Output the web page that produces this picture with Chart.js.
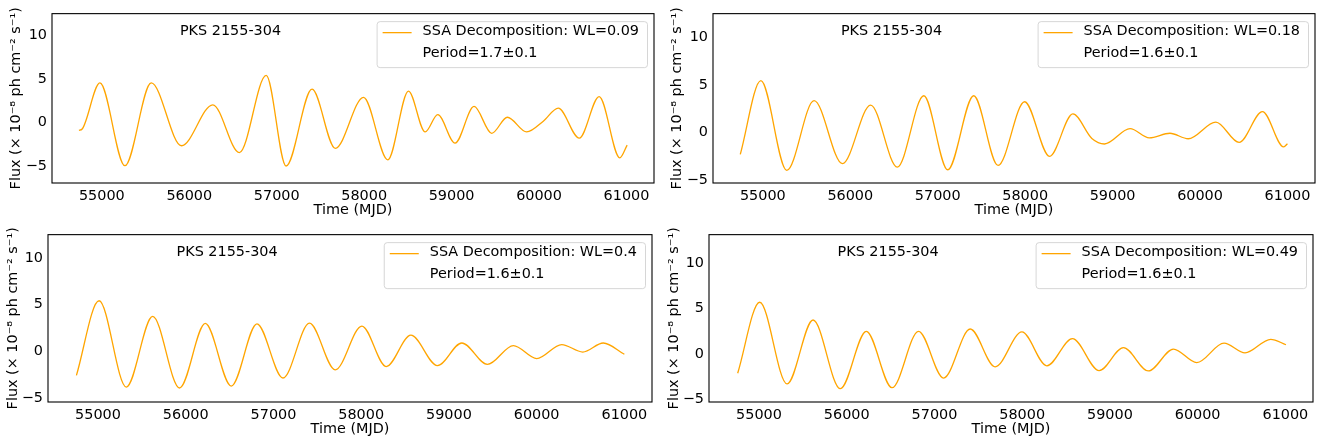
<!DOCTYPE html>
<html>
<head>
<meta charset="utf-8">
<script src="https://cdn.jsdelivr.net/npm/chart.js@4.4.1/dist/chart.umd.min.js"></script>
<style>
  html, body { margin: 0; padding: 0; background: #fff; }
  #fig { position: relative; width: 1328px; height: 443px; overflow: hidden; background: #fff; }
  #fig canvas { position: absolute; }
</style>
</head>
<body>
<div id="fig">
  <canvas id="c1" width="664" height="221" style="left:0;top:0"></canvas>
  <canvas id="c2" width="664" height="221" style="left:664px;top:0"></canvas>
  <canvas id="c3" width="664" height="222" style="left:0;top:221px"></canvas>
  <canvas id="c4" width="664" height="222" style="left:664px;top:221px"></canvas>
</div>
<script>
// ---- data ----
const sourceName = 'PKS 2155-304';
const xTitle = 'Time (MJD)';
const yTitle = 'Flux (\u00d7 10\u207b\u2078 ph cm\u207b\u00b2 s\u207b\u00b9)';
const xTicks = [55000, 56000, 57000, 58000, 59000, 60000, 61000];
const yTicks = [-5, 0, 5, 10];
const windowLengths = ['0.09', '0.18', '0.4', '0.49'];
const periods = ['1.7\u00b10.1', '1.6\u00b10.1', '1.6\u00b10.1', '1.6\u00b10.1'];

// WL = 0.09
const mjd1 = [54738, 54775, 54978, 55264, 55565, 55911, 56269, 56573, 56880, 57107, 57404, 57670, 57993, 58271,
              58507, 58698, 58842, 59040, 59257, 59459, 59638, 59859, 60049, 60220, 60460, 60688, 60924, 61008];
const flux1 = [-0.9, -0.75, 4.55, -4.96, 4.55, -2.67, 2.03, -3.46, 5.41, -5.0, 3.83, -2.97, 2.89, -4.29,
               3.61, -1.09, 0.9, -2.37, 1.84, -1.24, 0.6, -1.09, 0.15, 1.65, -1.8, 2.97, -4.06, -2.6];
// WL = 0.18
const mjd2 = [54742, 54978, 55274, 55586, 55910, 56233, 56538, 56841, 57115, 57412, 57690, 57994, 58279,
              58546, 58763, 58907, 59200, 59420, 59656, 59865, 60181, 60447, 60714, 60957, 61000];
const flux2 = [-2.29, 5.46, -3.98, 3.35, -3.27, 2.89, -3.63, 3.87, -3.91, 3.87, -3.45, 3.24, -2.5,
               1.96, -0.62, -1.2, 0.41, -0.55, -0.07, -0.65, 1.1, -1.03, 2.21, -1.51, -1.17];
// WL = 0.4
const mjd3 = [54754, 55012, 55323, 55623, 55930, 56223, 56519, 56812, 57108, 57411, 57704, 58008, 58285,
              58566, 58869, 59147, 59439, 59735, 60001, 60286, 60526, 60760, 61000];
const flux3 = [-2.57, 5.42, -3.82, 3.75, -3.92, 2.99, -3.72, 2.95, -2.85, 3.02, -1.98, 2.71, -1.63,
               1.73, -1.53, 0.9, -1.39, 0.62, -0.77, 0.73, -0.07, 0.9, -0.31];
// WL = 0.49
const mjd4 = [54757, 55008, 55320, 55616, 55927, 56223, 56516, 56819, 57104, 57408, 57692, 57997, 58281,
              58573, 58877, 59154, 59439, 59724, 59990, 60301, 60540, 60833, 61007];
const flux4 = [-2.13, 5.67, -3.3, 3.72, -3.83, 2.48, -3.72, 2.48, -2.66, 2.73, -1.42, 2.41, -1.31,
               1.67, -1.84, 0.68, -1.88, 0.53, -0.96, 1.17, 0.11, 1.6, 1.0];

const xMin = 54430, xMax = 61315;

// ---- layout of the four axes (canvas pixels) ----
const panels = [
  { id: 'c1', mjd: mjd1, flux: flux1, yMin: -6.95, yMax: 12.5, left: 52, top: 10, right: 654, bottom: 183, yTitlePad: 7.5, xTitlePad: 2.5 },
  { id: 'c2', mjd: mjd2, flux: flux2, yMin: -5.3, yMax: 12.5, left: 49, top: 10, right: 651, bottom: 183, yTitlePad: 5, xTitlePad: 2.5 },
  { id: 'c3', mjd: mjd3, flux: flux3, yMin: -5.42, yMax: 12.5, left: 48, top: 8, right: 652, bottom: 181, yTitlePad: 4.5, xTitlePad: 5 },
  { id: 'c4', mjd: mjd4, flux: flux4, yMin: -5.29, yMax: 13.1, left: 45, top: 8, right: 649, bottom: 181, yTitlePad: 2, xTitlePad: 5 }
];

Chart.defaults.font.family = '"DejaVu Sans", sans-serif';
Chart.defaults.font.size = 14.4;
Chart.defaults.color = '#000';

// frame, source name and the matplotlib-style legend inside the axes
const axesDecor = {
  id: 'axesDecor',
  afterDatasetsDraw(chart) {
    const { ctx, chartArea: a } = chart;
    const ds = chart.data.datasets[0];
    const lines = ds.label.split('\n');
    ctx.save();
    ctx.font = '14.4px "DejaVu Sans", sans-serif';
    ctx.fillStyle = '#000';
    ctx.textBaseline = 'middle';

    ctx.textAlign = 'center';
    ctx.fillText(sourceName, a.left + 0.2965 * (a.right - a.left), a.top + 17.5);

    const textW = Math.max(...lines.map(s => ctx.measureText(s).width));
    const boxR = a.right - 7;
    const boxL = boxR - (46 + textW + 8);
    const boxT = a.top + 7.5, boxB = a.top + 53.5;
    ctx.beginPath();
    ctx.roundRect(boxL + 0.5, boxT + 0.5, boxR - boxL, boxB - boxT, 3);
    ctx.fillStyle = 'rgba(255,255,255,0.8)';
    ctx.fill();
    ctx.strokeStyle = 'rgba(204,204,204,0.8)';
    ctx.lineWidth = 1;
    ctx.stroke();

    ctx.strokeStyle = ds.borderColor;
    ctx.lineWidth = ds.borderWidth;
    ctx.beginPath();
    ctx.moveTo(boxL + 6, a.top + 19);
    ctx.lineTo(boxL + 35, a.top + 19);
    ctx.stroke();

    ctx.fillStyle = '#000';
    ctx.textAlign = 'left';
    lines.forEach((s, k) => ctx.fillText(s, boxL + 46, a.top + 18 + k * 21.5));

    ctx.strokeStyle = '#000';
    ctx.lineWidth = 1.1;
    ctx.strokeRect(a.left, a.top, a.right - a.left, a.bottom - a.top);
    ctx.restore();
  }
};

panels.forEach((p, i) => {
  const canvas = document.getElementById(p.id);
  new Chart(canvas, {
    type: 'line',
    data: {
      datasets: [{
        label: 'SSA Decomposition: WL=' + windowLengths[i] + '\nPeriod=' + periods[i],
        data: p.mjd.map((t, k) => ({ x: t, y: p.flux[k] })),
        borderColor: '#FFA500',
        borderWidth: 1.3,
        pointRadius: 0,
        fill: false,
        cubicInterpolationMode: 'monotone'
      }]
    },
    options: {
      responsive: false,
      animation: false,
      devicePixelRatio: 1,
      layout: { padding: { left: 0, top: p.top, right: canvas.width - p.right, bottom: 0 } },
      plugins: { legend: { display: false }, tooltip: { enabled: false } },
      scales: {
        x: {
          type: 'linear',
          min: xMin,
          max: xMax,
          afterBuildTicks: s => { s.ticks = xTicks.map(v => ({ value: v })); },
          afterFit: s => { s.height = canvas.height - p.bottom; },
          ticks: { autoSkip: false, maxRotation: 0, padding: 5, callback: v => String(v) },
          grid: { display: false, drawTicks: false },
          border: { display: false },
          title: { display: true, text: xTitle, padding: { top: 0, bottom: p.xTitlePad } }
        },
        y: {
          type: 'linear',
          min: p.yMin,
          max: p.yMax,
          afterBuildTicks: s => { s.ticks = yTicks.map(v => ({ value: v })); },
          afterFit: s => { s.width = p.left; },
          ticks: { padding: 5, callback: v => String(v).replace('-', '\u2212') },
          grid: { display: false, drawTicks: false },
          border: { display: false },
          title: { display: true, text: yTitle, padding: { top: p.yTitlePad, bottom: 0 } }
        }
      }
    },
    plugins: [axesDecor]
  });
});
</script>
</body>
</html>
